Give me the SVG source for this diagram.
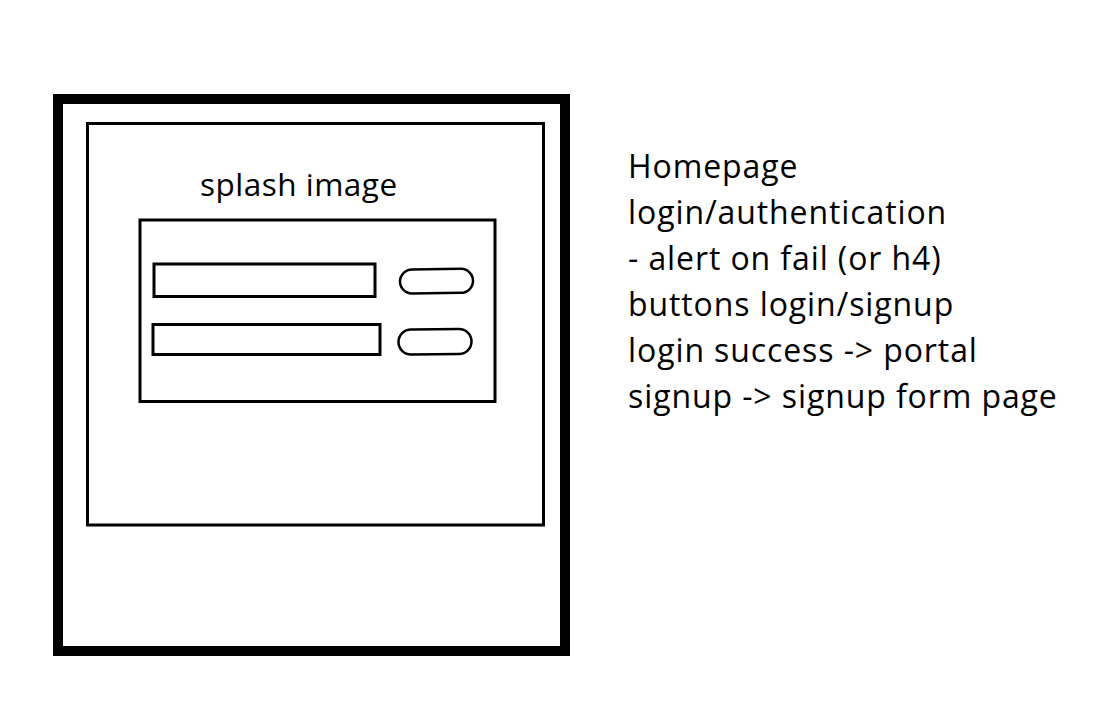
<svg xmlns="http://www.w3.org/2000/svg" width="1116" height="712" viewBox="0 0 1116 712">
  <style>
    .frame { fill: none; stroke: #000; stroke-width: 10; }
    .box { fill: none; stroke: #000; stroke-width: 3; }
    .pill { fill: none; stroke: #000; stroke-width: 2.5; }
    .label { font-family: "Open Sans", "Noto Sans", sans-serif; fill: #000; }
    .title { font-size: 31.5px; letter-spacing: 0.5px; }
    .note { font-size: 32px; letter-spacing: 0.9px; }
  </style>
  <rect width="1116" height="712" fill="#fff"/>
  <g id="page-frame">
    <rect class="frame" x="58" y="99" width="507" height="552"/>
  </g>
  <g id="splash-area">
    <rect class="box" x="87.5" y="123.5" width="456" height="401.5"/>
    <text class="label title" x="200" y="196">splash image</text>
  </g>
  <g id="login-form">
    <rect class="box" x="140" y="220" width="355" height="181.5"/>
  </g>
  <g id="input-username">
    <rect class="box" x="154" y="264" width="221" height="32.5"/>
  </g>
  <g id="input-password">
    <rect class="box" x="153" y="324.5" width="227" height="30"/>
  </g>
  <g id="button-login">
    <path class="pill" d="M412 269.5 L461 268.8 A12 12 0 0 1 461 292.8 L412 293.5 A12 12 0 0 1 412 269.5 Z"/>
  </g>
  <g id="button-signup">
    <path class="pill" d="M411 329.5 L459 329 A12 12 0 0 1 459 354 L411 354.5 A12.5 12.5 0 0 1 411 329.5 Z"/>
  </g>
  <g id="notes">
    <text class="label note" x="628" y="178">Homepage</text>
    <text class="label note" x="628" y="224">login/authentication</text>
    <text class="label note" x="628" y="270">- alert on fail (or h4)</text>
    <text class="label note" x="628" y="316">buttons login/signup</text>
    <text class="label note" x="628" y="362">login success -&gt; portal</text>
    <text class="label note" x="628" y="408">signup -&gt; signup form page</text>
  </g>
  <g id="connectors"/>
</svg>
